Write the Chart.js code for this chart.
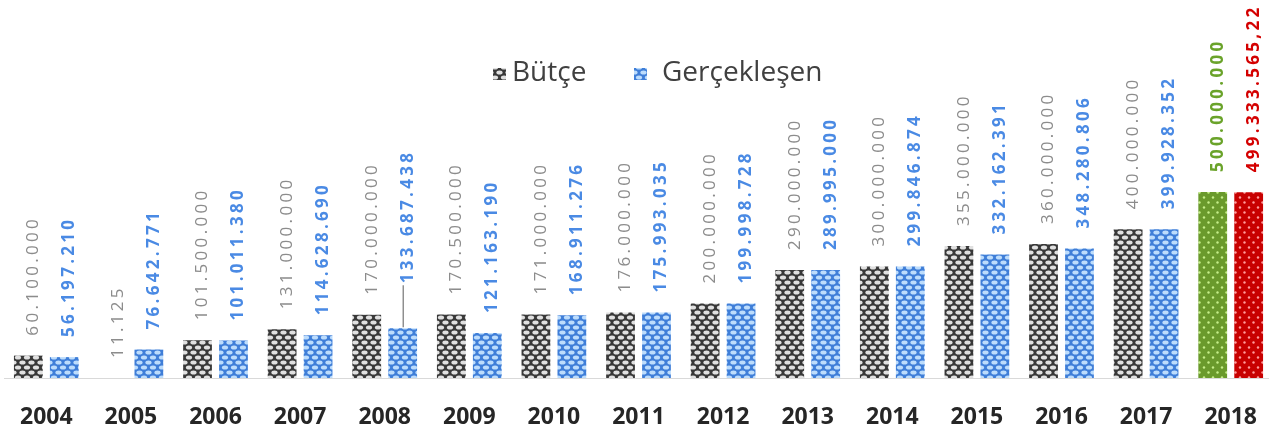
<!DOCTYPE html>
<html lang="tr">
<head>
<meta charset="utf-8">
<title>Bütçe ve Gerçekleşen</title>
<script src="https://cdn.jsdelivr.net/npm/chart.js@4.4.1/dist/chart.umd.min.js"></script>
<style>
  html, body { margin: 0; padding: 0; background: #fff; overflow: hidden; }
  #kutu { position: relative; width: 1274px; height: 426px; }
</style>
</head>
<body>
<div id="kutu"><canvas id="grafik"></canvas></div>
<script>
// yıllar ve tutarlar (TL)
var yillar = ['2004', '2005', '2006', '2007', '2008', '2009', '2010', '2011',
  '2012', '2013', '2014', '2015', '2016', '2017', '2018'];
var butce = [60100000, 11125, 101500000, 131000000, 170000000, 170500000,
  171000000, 176000000, 200000000, 290000000, 300000000, 355000000,
  360000000, 400000000, 500000000];
var gerceklesen = [56197210, 76642771, 101011380, 114628690, 133687438,
  121163190, 168911276, 175993035, 199998728, 289995000, 299846874,
  332162391, 348280806, 399928352, 499333565.22];
var seriAdlari = ['Bütçe', 'Gerçekleşen'];

// 60100000 -> "60.100.000", 499333565.22 -> "499.333.565,22"
function bicimle(v) {
  var tam = Math.floor(v);
  var kesir = Math.round((v - tam) * 100);
  var s = String(tam).replace(/\B(?=(\d{3})+(?!\d))/g, '.');
  if (kesir > 0) s += ',' + (kesir < 10 ? '0' + kesir : kesir);
  return s;
}

// petek ve nokta desenleri
function petek(zemin, pul) {
  var c = document.createElement('canvas');
  c.width = 9; c.height = 10;
  var g = c.getContext('2d');
  g.fillStyle = zemin;
  g.fillRect(0, 0, 9, 10);
  g.fillStyle = pul;
  [[4.5, 2.5], [0, 7.5], [9, 7.5]].forEach(function (p) {
    g.beginPath();
    g.ellipse(p[0], p[1], 3.1, 2.0, 0, 0, Math.PI * 2);
    g.fill();
  });
  return g.createPattern(c, 'repeat');
}
function noktali(zemin, nokta) {
  var c = document.createElement('canvas');
  c.width = 9; c.height = 10;
  var g = c.getContext('2d');
  g.fillStyle = zemin;
  g.fillRect(0, 0, 9, 10);
  g.fillStyle = nokta;
  [[2.5, 2.5], [7, 7.5]].forEach(function (p) {
    g.beginPath();
    g.arc(p[0], p[1], 1.2, 0, Math.PI * 2);
    g.fill();
  });
  return g.createPattern(c, 'repeat');
}

var koyuDesen = petek('#383838', '#e0e0e0');
var maviDesen = petek('#3f7ed8', '#bcdcfc');
var yesilDesen = noktali('#6a9a2c', '#c6ef8a');
var kirmiziDesen = noktali('#c80000', '#ff9c9c');
var son = yillar.length - 1;

function dolgular(desen, sonDesen) {
  return yillar.map(function (y, i) { return i === son ? sonDesen : desen; });
}

var yaziAilesi = '"Open Sans", "DejaVu Sans", sans-serif';

var degerEtiketleri = {
  id: 'degerEtiketleri',
  afterDatasetsDraw: function (chart) {
    var ctx = chart.ctx;
    chart.data.datasets.forEach(function (ds, di) {
      var meta = chart.getDatasetMeta(di);
      meta.data.forEach(function (bar, i) {
        var renk, kalin;
        if (di === 0) {
          renk = i === son ? '#6aa32a' : '#8c8c8c';
          kalin = i === son;
        } else {
          renk = i === son ? '#d40000' : '#4a8ae4';
          kalin = true;
        }
        // 2008 gerçekleşen etiketi yukarı alınmış, çizgiyle bağlı
        var kaydir = (di === 1 && i === 4) ? 25 : 0;
        var y0 = bar.y - 20 - kaydir;
        ctx.save();
        ctx.font = (kalin ? 'bold ' : '') + '17px ' + yaziAilesi;
        ctx.letterSpacing = '3.3px';
        ctx.fillStyle = renk;
        ctx.translate(bar.x + 5, y0);
        ctx.rotate(-Math.PI / 2);
        ctx.textAlign = 'left';
        ctx.textBaseline = 'middle';
        ctx.fillText(bicimle(ds.data[i]), 0, 0);
        ctx.restore();
        if (kaydir) {
          ctx.save();
          ctx.strokeStyle = '#595959';
          ctx.lineWidth = 1;
          ctx.beginPath();
          ctx.moveTo(bar.x + 0.5, bar.y - 1);
          ctx.lineTo(bar.x + 0.5, y0 + 2);
          ctx.stroke();
          ctx.restore();
        }
      });
    });
  },
  afterDraw: function (chart) {
    // gösterge
    var ctx = chart.ctx;
    var ogeler = [[493, 512, koyuDesen], [634, 662, maviDesen]];
    var y = 73;
    ctx.save();
    ctx.font = '28px ' + yaziAilesi;
    ctx.textBaseline = 'middle';
    ctx.textAlign = 'left';
    ogeler.forEach(function (o, k) {
      ctx.fillStyle = o[2];
      ctx.fillRect(o[0], y - 5, 13, 12);
      ctx.fillStyle = '#404040';
      ctx.fillText(seriAdlari[k], o[1], y);
    });
    ctx.restore();
  }
};

new Chart(document.getElementById('grafik'), {
  type: 'bar',
  data: {
    labels: yillar,
    datasets: [{
      label: seriAdlari[0],
      data: butce,
      backgroundColor: dolgular(koyuDesen, yesilDesen),
      borderWidth: 0
    }, {
      label: seriAdlari[1],
      data: gerceklesen,
      backgroundColor: dolgular(maviDesen, kirmiziDesen),
      borderWidth: 0
    }]
  },
  options: {
    responsive: true,
    maintainAspectRatio: false,
    animation: false,
    events: [],
    layout: { padding: { top: 192, left: 4, right: 1, bottom: -31 } },
    datasets: { bar: { categoryPercentage: 0.85, barPercentage: 0.8 } },
    plugins: {
      legend: { display: false },
      tooltip: { enabled: false }
    },
    scales: {
      x: {
        grid: { display: false, drawTicks: false },
        border: { display: true, color: '#d9d9d9', width: 1 },
        ticks: {
          color: '#262626',
          padding: 28,
          font: { family: yaziAilesi, size: 23, weight: 'bold', lineHeight: 1 }
        },
        // yıl etiketleri için yan boşluk bırakılmasın
        afterFit: function (s) {
          s.paddingLeft = 0;
          s.paddingRight = 0;
        }
      },
      y: {
        display: false,
        min: 0,
        max: 500000000
      }
    }
  },
  plugins: [degerEtiketleri]
});
</script>
</body>
</html>
